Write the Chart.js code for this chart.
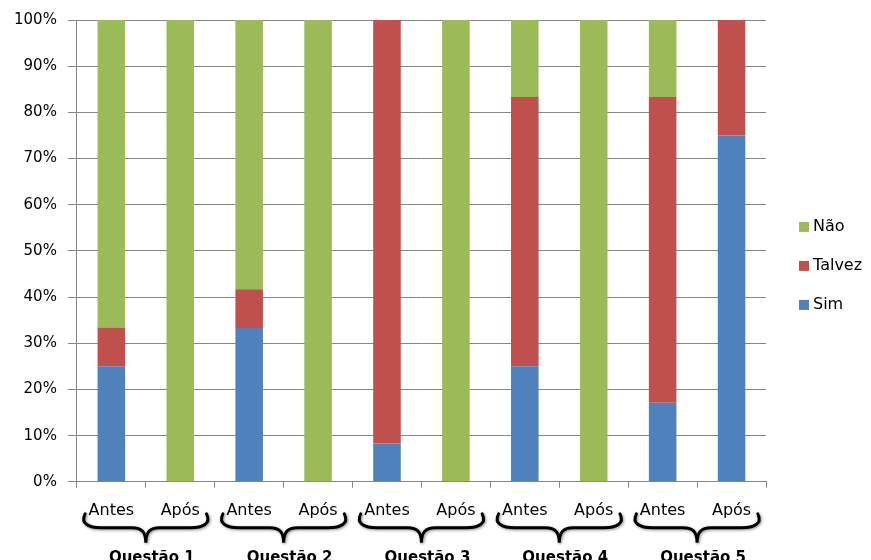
<!DOCTYPE html>
<html><head><meta charset="utf-8">
<script src="https://cdn.jsdelivr.net/npm/chart.js@4/dist/chart.umd.min.js"></script>
<style>html,body{margin:0;padding:0;background:#fff}#wrap{width:871px;height:560px}</style>
</head><body><div id="wrap"><canvas id="c" width="871" height="560"></canvas></div>
<script>
const categories = ['Antes','Após','Antes','Após','Antes','Após','Antes','Após','Antes','Após'];
const groups = ['Questão 1','Questão 2','Questão 3','Questão 4','Questão 5'];
const seriesNames = ['Sim','Talvez','Não'];
const sim    = [25,   0,  33.3, 0,   8.3, 0,  25,   0,  17.1, 75];
const talvez = [8.4,  0,  8.4,  0,  91.7, 0,  58.3, 0,  66.2, 25];
const nao    = [66.6, 100, 58.3, 100, 0, 100, 16.7, 100, 16.7, 0];
const yTickValues = [0,10,20,30,40,50,60,70,80,90,100];
const seriesColors = ['#4F81BD','#C0504D','#9BBB59'];

const FONT = 'DejaVu Sans';
const GRID = '#868686';

const bracePlugin = {
  id: 'braces',
  afterDraw(chart) {
    const xs = chart.scales.x, ctx = chart.ctx, b = chart.chartArea.bottom;
    const step = xs.getPixelForValue(1) - xs.getPixelForValue(0);
    ctx.save();
    groups.forEach((g, i) => {
      const xm = (xs.getPixelForValue(2*i) + xs.getPixelForValue(2*i+1)) / 2;
      const hw = step * 0.91;
      const xl = xm - hw, xr = xm + hw;
      const y0 = b + 32, y1 = b + 46, y2 = b + 61;
      ctx.shadowColor = 'rgba(0,0,0,0.45)';
      ctx.shadowBlur = 3; ctx.shadowOffsetX = 1; ctx.shadowOffsetY = 1;
      ctx.strokeStyle = '#000'; ctx.lineWidth = 3; ctx.lineCap = 'round';
      ctx.beginPath();
      ctx.moveTo(xl + 2, y0);
      ctx.bezierCurveTo(xl - 3, y1 - 4, xl + 6, y1, xl + 18, y1);
      ctx.lineTo(xm - 14, y1);
      ctx.bezierCurveTo(xm - 4, y1, xm, y1 + 4, xm, y2);
      ctx.bezierCurveTo(xm, y1 + 4, xm + 4, y1, xm + 14, y1);
      ctx.lineTo(xr - 18, y1);
      ctx.bezierCurveTo(xr - 6, y1, xr + 3, y1 - 4, xr - 2, y0);
      ctx.stroke();
      ctx.shadowColor = 'transparent';
      ctx.fillStyle = '#000';
      ctx.font = 'bold 15px "' + FONT + '"';
      ctx.textAlign = 'center'; ctx.textBaseline = 'alphabetic';
      ctx.fillText(g, xm + 6, b + 80);
    });
    ctx.restore();
  }
};

const legendPlugin = {
  id: 'sideLegend',
  afterDraw(chart) {
    const ctx = chart.ctx, ca = chart.chartArea;
    const ds = chart.data.datasets.slice().reverse();
    const x = ca.right + 33;
    const cy = (ca.top + ca.bottom) / 2 + 15;
    ctx.save();
    ctx.font = '16px "' + FONT + '"';
    ctx.textBaseline = 'middle'; ctx.textAlign = 'left';
    ds.forEach((d, i) => {
      const y = cy + (i - 1) * 39;
      ctx.fillStyle = d.backgroundColor;
      ctx.fillRect(x, y - 5, 10, 10);
      ctx.fillStyle = '#000';
      ctx.fillText(d.label, x + 14, y);
    });
    ctx.restore();
  }
};

new Chart(document.getElementById('c'), {
  type: 'bar',
  data: {
    labels: categories,
    datasets: [
      { label: seriesNames[0], data: sim, backgroundColor: seriesColors[0] },
      { label: seriesNames[1], data: talvez, backgroundColor: seriesColors[1] },
      { label: seriesNames[2], data: nao, backgroundColor: seriesColors[2] }
    ]
  },
  options: {
    responsive: false,
    animation: false,
    devicePixelRatio: 1,
    layout: { padding: { top: 16, left: 3, right: 105, bottom: 27 } },
    datasets: { bar: { categoryPercentage: 1, barPercentage: 0.4, borderWidth: 0 } },
    plugins: { legend: { display: false }, tooltip: { enabled: false } },
    scales: {
      x: {
        stacked: true,
        grid: { display: true, drawOnChartArea: false, drawTicks: true, tickLength: 6, color: GRID, offset: true },
        border: { display: true, color: GRID },
        ticks: { color: '#000', font: { family: FONT, size: 16 }, padding: 13, maxRotation: 0, autoSkip: false }
      },
      y: {
        stacked: true, min: 0, max: 100,
        afterBuildTicks(scale) { scale.ticks = yTickValues.map(v => ({ value: v })); },
        grid: { color: GRID, tickLength: 9 },
        border: { display: true, color: GRID },
        ticks: { color: '#000', font: { family: FONT, size: 15 }, padding: 11, callback: v => v + '%' }
      }
    }
  },
  plugins: [bracePlugin, legendPlugin]
});
</script>
</body></html>
